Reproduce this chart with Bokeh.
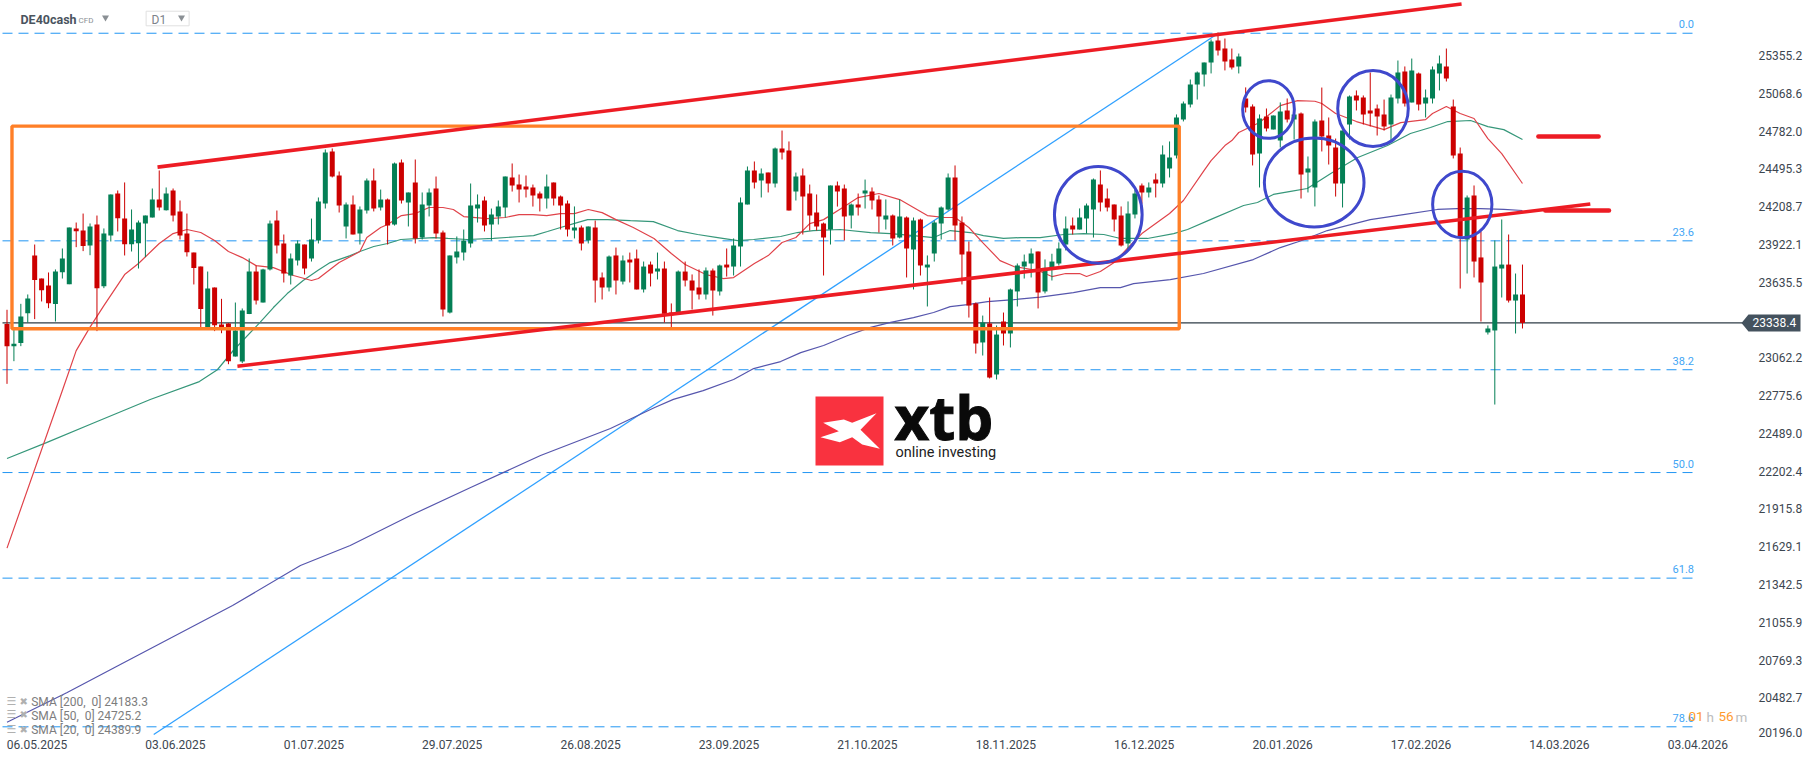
from bokeh.plotting import figure
from bokeh.models import Range1d, LinearAxis, FixedTicker
from bokeh.core.properties import value
from bokeh.embed import file_html
from bokeh.resources import INLINE

opens = [23331,23162,23185,23412,23850,23675,23622,23481,23723,23632,
24055,24039,23926,24085,23617,24001,24320,24130,23936,23943,
24093,24138,24275,24194,24343,24184,24017,23872,23766,23293,
23607,23326,23334,23083,23045,23405,23728,23493,23744,24115,
23941,23698,23812,23933,23827,23964,24244,24639,24457,24070,
24237,24017,24191,24419,24214,24275,24085,24555,24252,24404,
23986,24229,24358,24024,23417,23835,23873,23941,24206,24267,
24085,24146,24214,24442,24388,24373,24366,24320,24282,24404,
24297,24244,24039,24062,23964,24062,23683,23607,23850,23652,
23819,23827,23592,23781,23728,23751,23417,23412,23728,23660,
23607,23554,23736,23577,23781,23766,23918,24237,24495,24419,
24479,24396,24662,24646,24335,24457,24320,24176,24093,24047,
24381,24358,24153,24237,24320,24335,24275,24123,24153,23986,
24138,23895,24123,23759,23865,24093,24199,24442,24100,23880,
23486,23190,23334,22947,23349,23258,23577,23766,23789,23880,
23577,23744,23789,23933,24078,24047,24131,24199,24389,24282,
24237,24153,23941,24161,24381,24328,24427,24396,24510,24609,
24882,24996,25147,25223,25314,25481,25420,25337,25284,25041,
24980,24624,24905,24806,24722,24950,24882,24927,24480,24366,
24874,24760,24669,24396,24844,25064,25049,24950,24965,24920,
24844,25041,25246,25011,25231,25003,25041,25231,25284,24980,
24624,23971,24305,23835,23266,23281,23751,23781,23508,23554]

highs = [23438,23293,23483,23554,23933,23675,23721,23744,23903,24062,
24100,24168,24093,24153,24055,24313,24343,24404,24199,24115,
24153,24358,24495,24366,24358,24267,24168,23872,23766,23728,
23607,23521,23336,23493,23448,23827,23774,23749,24115,24191,
24009,23865,23964,23933,24130,24290,24654,24662,24487,24252,
24305,24222,24434,24510,24350,24282,24555,24578,24328,24578,
24328,24358,24449,24039,23850,23994,24047,24396,24313,24297,
24206,24267,24449,24548,24464,24457,24388,24335,24464,24404,
24305,24267,24222,24077,24070,24115,23721,23850,23910,23850,
23872,23895,23804,23804,23872,23804,23486,23736,23804,23706,
23744,23759,23751,23781,23903,23979,24290,24525,24563,24510,
24479,24669,24798,24715,24479,24510,24388,24313,24100,24381,
24411,24388,24244,24320,24426,24366,24305,24275,24161,24275,
24146,24138,24130,23850,24115,24222,24472,24533,24146,23956,
23493,23394,23531,23319,23417,23599,23789,23857,23903,23880,
23820,23863,23949,24146,24138,24207,24244,24434,24495,24358,
24237,24222,24260,24351,24396,24404,24472,24685,24715,24920,
25018,25185,25246,25314,25489,25542,25496,25420,25382,25125,
24996,24920,24965,24912,25011,25041,24988,24935,24601,24882,
25124,24897,24737,24798,25064,25102,25064,25238,24995,25033,
25071,25329,25284,25344,25238,25109,25284,25367,25420,25033,
24669,24305,24381,24032,23319,23964,24123,24009,23713,23781]

lows = [22876,23048,23162,23341,23367,23501,23450,23349,23675,23632,
23913,23883,23852,23276,23602,23956,24032,23850,23880,23751,
23837,24138,24191,24191,24108,23971,23842,23630,23293,23293,
23276,23260,23025,23083,23033,23405,23478,23493,23736,23865,
23645,23630,23774,23706,23804,23941,24206,24442,24176,23979,
24009,23933,24168,24184,24191,23933,24077,24244,24070,23941,
23971,24146,23979,23387,23410,23789,23812,23910,24100,24032,
23964,24085,24138,24335,24252,24290,24221,24184,24206,24229,
24047,23994,23979,23888,23941,23493,23516,23577,23554,23630,
23645,23592,23569,23615,23668,23341,23301,23412,23615,23440,
23516,23516,23394,23546,23690,23698,23766,24237,24358,24290,
24328,24366,24578,24191,24267,24009,24039,24039,23698,23933,
24221,23964,24055,24153,24206,24199,24024,24047,23926,23979,
23683,23592,23698,23463,23804,23971,24191,23964,23630,23379,
23106,23091,22917,22909,23167,23152,23463,23675,23683,23448,
23562,23660,23774,23888,24009,24047,24017,23986,24184,24184,
24032,23918,23888,24131,24242,24290,24290,24366,24442,24586,
24867,24973,25033,25132,25231,25367,25254,25261,25231,24935,
24533,24366,24791,24806,24669,24859,24730,24282,24328,24222,
24639,24540,24297,24214,24730,24950,24844,24829,24760,24798,
24722,25003,24980,25011,24950,24897,25003,25102,25170,24586,
23599,23713,23683,23349,23250,22719,23531,23493,23258,23296]

closes = [23162,23180,23387,23523,23663,23587,23488,23728,23827,24062,
24034,23921,24070,23602,24017,24313,24133,23936,24047,24100,
24153,24275,24214,24320,24153,24001,23875,23754,23443,23599,
23321,23293,23048,23281,23432,23728,23508,23744,24093,23926,
23713,23827,23941,23751,23971,24259,24631,24449,24229,24237,
24009,24199,24419,24206,24275,24077,24548,24267,24328,23979,
24237,24328,24017,23440,23850,23880,23964,24229,24237,24077,
24161,24222,24449,24381,24350,24350,24305,24282,24373,24282,
24229,24047,24062,23941,24070,23660,23607,23842,23660,23812,
23797,23592,23766,23713,23751,23407,23397,23728,23660,23584,
23554,23736,23584,23774,23759,23926,24252,24495,24404,24472,
24396,24662,24631,24191,24449,24297,24153,24070,23986,24381,
24335,24146,24237,24214,24343,24267,24146,24153,23979,24146,
23903,24115,23774,23781,24100,24214,24442,24077,23857,23470,
23182,23341,22924,23250,23258,23592,23774,23804,23865,23569,
23756,23804,23903,24055,24047,24138,24229,24427,24252,24214,
24123,23926,24169,24320,24328,24366,24396,24616,24593,24897,
25003,25147,25238,25314,25474,25405,25322,25276,25360,24973,
24616,24889,24813,24912,24942,24882,24920,24464,24510,24866,
24753,24684,24396,24798,25056,25026,24920,24927,24904,24829,
25049,25238,25003,25253,24995,25049,25261,25306,25193,24608,
23994,24290,23804,23645,23296,23766,23781,23508,23554,23338.4]

sma20_i = [0,8,10,12,14,17,19,22,24,26,28,30,32,34,36,38.5,41.4,44,45,48,51,52,54,55,57,59,61,63,64.5,66,69.5,72,74,76,78,80,82,84,86,88,90.5,93.5,96,98,101,103.5,105,108,110,112,114,116,118,121,123,126,129,131,133,135.5,137,139,141,143.5,145.5,149,151,153,155,156,158,160,162,164,168,170,173,174,176,177,178,181,184,186.5,189,190,192,195,199,201.4,205,206,208,210,212,214,216,219]
sma20 = [21630,22825,23128,23306,23470,23705,23789,23941,24016,24047,24024,23963,23880,23834,23773,23758,23698,23660,23675,23796,23880,23986,24062,24085,24153,24168,24214,24214,24199,24145,24130,24138,24160,24160,24153,24168,24168,24199,24175,24122,24062,23979,23865,23781,23705,23675,23682,23789,23849,23948,23986,24092,24122,24221,24289,24320,24274,24214,24153,24138,24138,24062,23948,23811,23766,23736,23690,23713,23713,23690,23728,23796,23910,24016,24168,24267,24495,24570,24684,24722,24783,24859,24987,25025,25020,25003,24927,24866,24805,24858,24881,24927,24980,24927,24889,24737,24623,24396]

sma50_i = [0,5.7,12.5,20.7,27.8,30.4,32.7,36.6,38.5,40.5,42.8,44.9,46.7,49.6,51,53,55,56.9,59.8,61.6,63.7,66.5,70.3,74.2,76.1,78.1,80,81.9,83.9,86.8,90.1,93.4,96.9,99.8,102.7,105.6,107.9,111.8,114.2,116.5,120.4,124.8,127.7,131,133.9,136.3,139.2,141.1,144,146.5,149.3,152.7,155.6,158.5,160.9,164.8,168.6,170.6,173.9,178.7,180.7,183,185.5,187.9,191.3,195.2,199.5,202.8,205.7,208.2,211.5,214,216.3,219]
sma50 = [22310,22430,22579,22757,22893,22983,23129,23344,23455,23561,23660,23736,23796,23849,23880,23918,23941,23971,23979,23986,23979,23971,23979,23994,24001,24032,24062,24092,24122,24122,24114,24107,24039,24009,23986,23963,23971,23994,24024,24039,24047,24024,24016,24001,23986,24039,24024,24001,23979,23986,23986,24009,24016,24009,23979,23979,24016,24047,24122,24229,24252,24313,24336,24358,24472,24593,24684,24775,24821,24866,24874,24828,24805,24730]

sma200_i = [0,8.7,16.1,32.6,42.4,49.6,58.3,67,77.1,87.2,93.6,96.3,100.6,105,107.9,111.8,114.7,118,121.5,124.8,127.7,131,133.9,136.3,138.8,141.7,145.5,149.3,154.1,158,160.9,162.8,168.1,172.9,180.1,184,186.9,190.8,197,201.8,206.7,209.6,212.9,216.3,219]
sma200 = [20309,20534,20739,21194,21498,21650,21877,22090,22332,22537,22696,22758,22825,22909,22992,23045,23113,23167,23243,23304,23342,23379,23417,23462,23477,23500,23515,23534,23568,23606,23606,23636,23667,23713,23819,23910,23960,24039,24122,24160,24199,24206,24206,24199,24191]

y_labels = [25355.2,25068.6,24782.0,24495.3,24208.7,23922.1,23635.5,23062.2,22775.6,22489.0,22202.4,21915.8,21629.1,21342.5,21055.9,20769.3,20482.7,20196.0]
date_labels = ["06.05.2025","03.06.2025","01.07.2025","29.07.2025","26.08.2025","23.09.2025","21.10.2025","18.11.2025","16.12.2025","20.01.2026","17.02.2026","14.03.2026","03.04.2026"]
date_index = [0,20,40,60,80,100,120,140,160,180,200,220,240]
fib_names = ["0.0","23.6","38.2","50.0","61.8","78.6"]
fib_prices = [25536,23961,22983,22203,21402,20274]
last_price = 23338.4
legend_rows = ["SMA [200,\u00a0 0] 24183.3","SMA [50,\u00a0 0] 24725.2","SMA [20,\u00a0 0] 24389.9"]

# geometry of the page: bar index and price <-> pixel
W, H = 1805, 760
BAR = 6.92
PX_PRICE = 7.587
def IX(px): return (px - 6.5) / BAR
def PY(py): return last_price + (322.4 - py) * PX_PRICE

RED, GREEN = "#cc0000", "#047f55"
FONT = value("Roboto")

p = figure(width=W, height=H, x_range=Range1d(IX(0), IX(W)), y_range=Range1d(PY(H), PY(0)),
           x_axis_type=None, y_axis_type=None, toolbar_location=None,
           output_backend="svg", min_border=0, outline_line_color=None,
           background_fill_color="white", border_fill_color="white")

# fib levels
p.segment([IX(2)]*len(fib_prices), fib_prices, [IX(1697)]*len(fib_prices), fib_prices,
          line_color="#2196f3", line_width=1, line_dash="10 6")
p.line([21.2, 175], [20215, 25534], line_color="#2fa0ff", line_width=1.3)
# last price line
p.segment([IX(2)], [last_price], [IX(1745)], [last_price], line_color="#2f3c47", line_width=1.1)

# moving averages
p.line(sma200_i, sma200, line_color="#5656ad", line_width=1.2)
p.line(sma50_i, sma50, line_color="#36977a", line_width=1.2)
p.line(sma20_i, sma20, line_color="#e0434a", line_width=1.2)

# candles
idx = list(range(len(opens)))
cols = [GREEN if c >= o else RED for o, c in zip(opens, closes)]
p.segment(idx, lows, idx, highs, line_color=cols, line_width=1)
p.vbar(x=idx, top=[max(o, c) for o, c in zip(opens, closes)], bottom=[min(o, c) for o, c in zip(opens, closes)],
       width=5 / BAR, fill_color=cols, line_color=None)

# orange box
p.quad(left=[0.72], right=[169.4], top=[24831], bottom=[23294], fill_color=None,
       line_color="#ff7f27", line_width=3.4)

# red trend lines
TL = "#ed1c24"
p.line([21.75, 210.2], [24520, 25758], line_color=TL, line_width=3.6)
p.line([33.3, 228.8], [23010, 24240], line_color=TL, line_width=3.6)
p.line([221.3, 230.0], [24753, 24753], line_color=TL, line_width=4.5, line_cap="round")
p.line([222.3, 231.5], [24191, 24191], line_color=TL, line_width=4.5, line_cap="round")

# blue ellipses
p.ellipse(x=[157.7, 182.3, 188.9, 197.4, 210.3], y=[24158.6, 24957.5, 24403.6, 24965, 24236.7],
          width=[12.67, 7.47, 14.4, 10.2, 8.57], height=[733.6, 437.8, 675, 576.6, 503],
          fill_color=None, line_color="#3f48cc", line_width=3)

# fib labels
fib_label_y = [23.3, 231, 360, 463, 568, 717]
p.text([IX(1693.5)]*6, [PY(v) for v in fib_label_y], text=fib_names, text_font=FONT, text_font_size="11px",
       text_color="#42a5f5", text_align="right", text_baseline="middle")

# price tag
tag_x = [IX(v) for v in (1741, 1748, 1800, 1800, 1748)]
tag_y = [PY(v) for v in (322.4, 314, 314, 331, 331)]
p.patch(tag_x, tag_y, fill_color="#44525e", line_color=None)
p.text([IX(1752)], [last_price], text=["23338.4"], text_font=FONT, text_font_size="12px",
       text_color="white", text_baseline="middle", text_align="left")

# axes placed by their own scales
ticks_y = [v + 1.5 * PX_PRICE for v in y_labels[:-1]] + [PY(731.7)]
names_y = {t: f"{v:.1f}" for t, v in zip(ticks_y, y_labels)}
ya = LinearAxis(ticker=FixedTicker(ticks=ticks_y), major_label_overrides=names_y, fixed_location=IX(1752),
                axis_line_color=None, major_tick_line_color=None, minor_tick_line_color=None,
                major_label_standoff=0, major_label_text_font="Roboto", major_label_text_font_size="12px",
                major_label_text_color="#3c4650")
p.add_layout(ya, "right")
ticks_x = [i + 30 / BAR for i in date_index]
names_x = {t: s for t, s in zip(ticks_x, date_labels)}
xa = LinearAxis(ticker=FixedTicker(ticks=ticks_x), major_label_overrides=names_x, fixed_location=PY(733.5),
                axis_line_color=None, major_tick_line_color=None, minor_tick_line_color=None,
                major_label_standoff=0, major_label_text_font="Roboto", major_label_text_font_size="12px",
                major_label_text_color="#3c4650")
p.add_layout(xa, "below")

# SMA legend
leg_y = [701.7, 715.3, 729.7]
p.text([IX(30.7)]*3, [PY(v) for v in leg_y], text=legend_rows, text_font=FONT, text_font_size="12px",
       text_color="#7d7d7d", text_baseline="middle")
p.text([IX(6)]*3, [PY(v - 1) for v in leg_y], text=["☰"]*3, text_font=value("DejaVu Sans"), text_font_size="11px",
       text_color="#b0b0b0", text_baseline="middle")
p.text([IX(19)]*3, [PY(v - 1) for v in leg_y], text=["✖"]*3, text_font=value("DejaVu Sans"), text_font_size="10px",
       text_color="#b0b0b0", text_baseline="middle")

# header
p.text([IX(20)], [PY(19)], text=["DE40cash"], text_font=FONT, text_font_style="bold", text_font_size="12.5px",
       text_color="#4a545e", text_baseline="middle")
p.text([IX(78)], [PY(19.5)], text=["CFD"], text_font=FONT, text_font_size="8px", text_color="#8a8f94",
       text_baseline="middle")
p.scatter([IX(105), IX(181)], [PY(17), PY(17)], marker="inverted_triangle", size=7, fill_color="#8a8f94", line_color=None)
p.quad(left=[IX(145.6)], right=[IX(188.6)], top=[PY(10.7)], bottom=[PY(25.3)], fill_color=None, line_color="#e0e0e0", line_width=1)
p.text([IX(151)], [PY(19.5)], text=["D1"], text_font=FONT, text_font_size="12px", text_color="#7d838a",
       text_baseline="middle")

# countdown
p.text([IX(1688), IX(1718)], [PY(716)]*2, text=["01", "56"], text_font=FONT, text_font_size="13.5px",
       text_color="#ff9a2e", text_baseline="middle")
p.text([IX(1706), IX(1735)], [PY(716)]*2, text=["h", "m"], text_font=FONT, text_font_size="13.5px",
       text_color="#bdbdbd", text_baseline="middle")

# logo
p.quad(left=[IX(815)], right=[IX(883)], top=[PY(396)], bottom=[PY(465)], fill_color="#f9323f", line_color=None)
mark = [(128,127),(190,117),(215,127),(288,98),(240,148),(298,205),(245,192),(215,170),(178,185),(120,170),(175,152)]
p.patch([IX(780 + a / 3) for a, b in mark], [PY(380 + b / 3) for a, b in mark], fill_color="white", line_color=None)
p.text([IX(894)], [PY(416.5)], text=["xtb"], text_font=value("Open Sans"), text_font_style="bold", text_font_size="60px",
       text_color="#0a0a0a", text_outline_color="#0a0a0a", text_baseline="alphabetic")
p.text([IX(895)], [PY(452)], text=["online investing"], text_font=FONT, text_font_size="14.5px",
       text_color="#222222", text_baseline="alphabetic")

open("out.html", "w").write(file_html(p, INLINE))
